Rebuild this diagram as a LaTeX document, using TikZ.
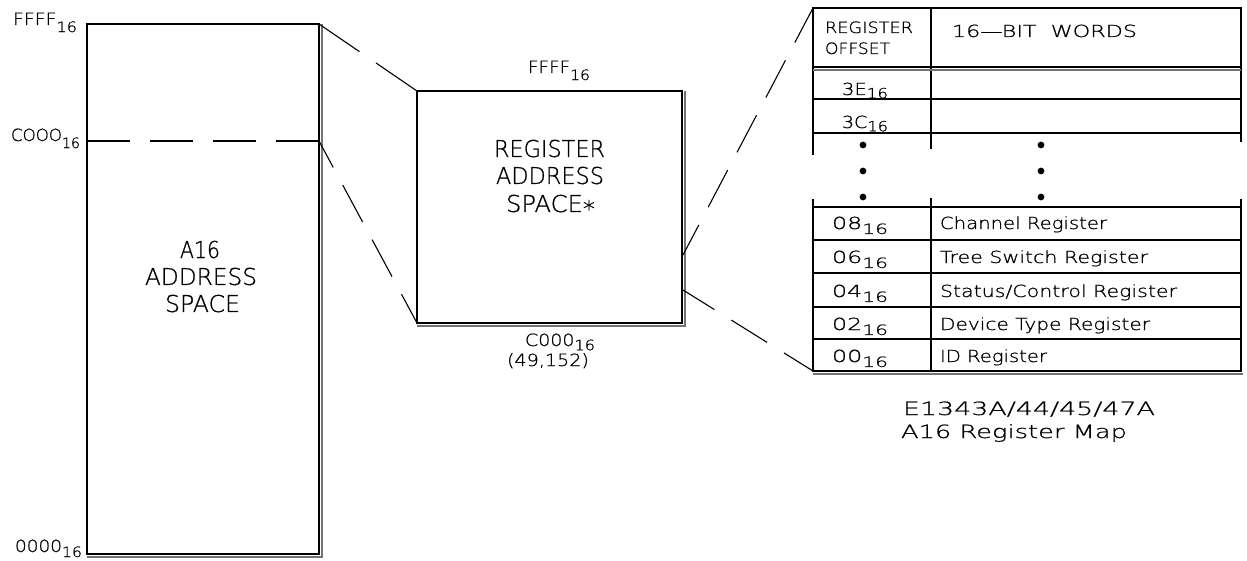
\documentclass[tikz,border=0pt]{standalone}
\usepackage{fontspec}
\usepackage{graphicx}
\IfFontExistsTF{DejaVu Sans ExtraLight}{\setmainfont{DejaVu Sans ExtraLight}[RawFeature={embolden=0.8}]}{\setmainfont{Liberation Sans}}
\newcommand\sixt[1][0.42em]{\raisebox{-#1}{\scalebox{0.85}{16}}}
\newcommand\fitw[2]{\resizebox{#1}{\height}{#2}}
\begin{document}
\begin{tikzpicture}[x=0.5pt,y=-0.5pt, line width=0.55pt,
  box/.style={draw, inner sep=0pt, outer sep=0pt},
  shadeline/.style={draw=black!55, line width=0.55pt},
  dashline/.style={dash pattern=on 21pt off 10pt},
  lbl/.style={inner sep=0pt, outer sep=0pt, anchor=base west, text=black},
  big/.style={lbl, font=\fontsize{11.6}{13}\selectfont},
  addr/.style={lbl, font=\fontsize{8.4}{10}\selectfont},
  cell/.style={lbl, font=\fontsize{8.3}{9}\selectfont},
  head/.style={lbl, font=\fontsize{7.8}{9}\selectfont},
  capt/.style={lbl, font=\fontsize{9.1}{10}\selectfont},
  dotmark/.style={fill=black}]
\useasboundingbox (0,0) rectangle (1247,561);

% boxes
\node[box, minimum width=116pt, minimum height=265pt] (a16) at (203,289) {};
\node[box, minimum width=132.5pt, minimum height=116pt] (reg) at (549.5,207) {};
\draw[shadeline] ([xshift=1.5pt]a16.north east) -- ([xshift=1.5pt,yshift=-1.5pt]a16.south east) -- ([yshift=-1.5pt]a16.south west);
\draw[shadeline] ([xshift=1.5pt]reg.north east) -- ([xshift=1.5pt,yshift=-1.5pt]reg.south east) -- ([yshift=-1.5pt]reg.south west);

% named points
\coordinate (c0L) at (87,141);
\coordinate (c0R) at (319,141);
\path (reg.north east) ++(1,164) coordinate (rA);
\path (reg.north east) ++(1,199) coordinate (rB);
\coordinate (tTL) at (813,8);
\coordinate (tBL) at (813,371);

% connectors
\draw[dash pattern=on 21.5pt off 10pt] (c0L) -- (c0R);
\draw[dash pattern=on 24.5pt off 10pt] (a16.north east) -- (reg.north west);
\draw[dashline, dash phase=6pt] (c0R) -- (reg.south west);
\draw[dashline, dash phase=4pt] (rA) -- (tTL);
\draw[dashline, dash phase=2.5pt] (rB) -- (tBL);

% left labels
\node[addr] (lF) at (13,25) {\fitw{32pt}{FFFF\sixt}};
\node[addr] (lC) at (11,141) {\fitw{34.5pt}{COOO\sixt}};
\node[addr] (l0) at (15,552) {\fitw{33.5pt}{0000\sixt[0.3em]}};
\node[big] (la1) at (180,258) {\fitw{20pt}{A16}};
\node[big] (la2) at (145,285) {\fitw{56pt}{ADDRESS}};
\node[big] (la3) at (165,312) {\fitw{37.5pt}{SPACE}};

% middle labels
\node[addr] (mF) at (528,73) {\fitw{31pt}{FFFF\sixt}};
\node[addr] (mC) at (525,346) {\fitw{35pt}{C000\sixt[0.25em]}};
\node[addr] (mN) at (507,366) {\fitw{41pt}{(49,152)}};
\node[big] (mr1) at (494,157) {\fitw{55.5pt}{REGISTER}};
\node[big] (mr2) at (496,184) {\fitw{54pt}{ADDRESS}};
\node[big] (mr3) at (506,212) {\fitw{44.5pt}{SPACE\raisebox{-0.22em}{*}}};

% table lines
\draw (813,155) -- (tTL) -- (1241,8) -- (1241,142);
\draw (931,8) -- (931,149);
\draw (813,199) -- (tBL) -- (1241,371) -- (1241,199);
\draw (931,198) -- (931,371);
\foreach \yy in {67,99,133,207,240,273,307,339} \draw (813,\yy) -- (1241,\yy);
\draw[shadeline] (813,70) -- (1241,70);
\draw[shadeline] (813,374) -- (1243,374);

% dots
\foreach \yy in {145,171,197} {
  \fill[dotmark] (863,\yy) circle (1.7pt);
  \fill[dotmark] (1041,\yy) circle (1.7pt);
}

% table header
\node[head] (h1) at (825,33) {\fitw{44pt}{REGISTER}};
\node[head] (h2) at (825,54) {\fitw{32.5pt}{OFFSET}};
\node[cell] (h3) at (952,37) {\fitw{92.5pt}{16---BIT\ \ WORDS}};

% table rows
\node[cell] (o3E) at (842,95) {\fitw{23pt}{3E\sixt[0.2em]}};
\node[cell] (o3C) at (842,128) {\fitw{23pt}{3C\sixt[0.2em]}};
\node[cell] (o08) at (832,229) {\fitw{28pt}{08\sixt[0.3em]}};
\node[cell] (o06) at (832,263) {\fitw{28pt}{06\sixt[0.3em]}};
\node[cell] (o04) at (832,297) {\fitw{28pt}{04\sixt[0.3em]}};
\node[cell] (o02) at (832,330) {\fitw{28pt}{02\sixt[0.3em]}};
\node[cell] (o00) at (832,362) {\fitw{28pt}{00\sixt[0.3em]}};
\node[cell] (d08) at (940,229) {\fitw{83.5pt}{Channel Register}};
\node[cell] (d06) at (940,263) {\fitw{104pt}{Tree Switch Register}};
\node[cell] (d04) at (940,297) {\fitw{118.5pt}{Status/Control Register}};
\node[cell] (d02) at (940,330) {\fitw{105pt}{Device Type Register}};
\node[cell] (d00) at (940,362) {\fitw{53.5pt}{ID Register}};

% caption
\node[capt] (cap1) at (903,415) {\fitw{126pt}{E1343A/44/45/47A}};
\node[capt] (cap2) at (901,438) {\fitw{113pt}{A16 Register Map}};
\end{tikzpicture}
\end{document}
